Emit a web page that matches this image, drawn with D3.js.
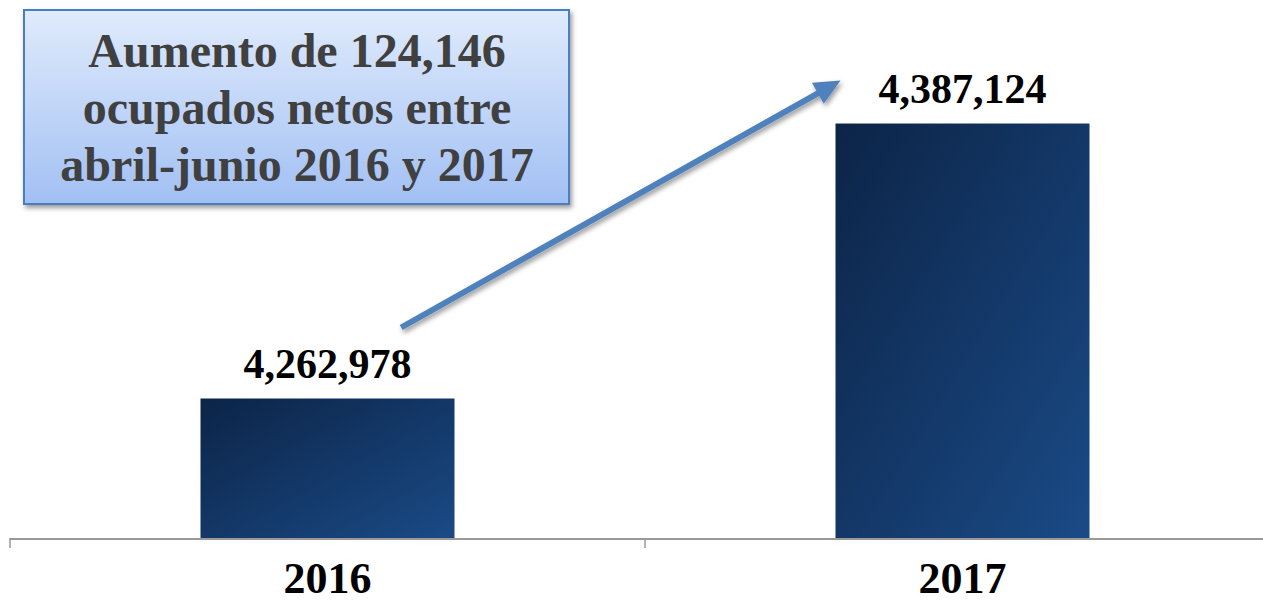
<!DOCTYPE html>
<html>
<head>
<meta charset="utf-8">
<script src="https://cdn.jsdelivr.net/npm/d3@7"></script>
<style>
  body { margin: 0; background: #fff; }
  text { font-family: "Liberation Serif", "Times New Roman", serif; font-weight: bold; }
</style>
</head>
<body>
<svg id="chart" width="1263" height="604"></svg>
<script>
const years = ["2016", "2017"];
const ocupados = [4262978, 4387124];
const boxLines = ["Aumento de 124,146", "ocupados netos entre", "abril-junio 2016 y 2017"];

const svg = d3.select("#chart");
const baseY = 538;

const x = d3.scaleBand()
    .domain(years)
    .range([10, 1280])
    .paddingInner(0.6)
    .paddingOuter(0.3);

const y = d3.scaleLinear()
    .domain([4200000, 4400000])
    .range([baseY, 95]);

const defs = svg.append("defs");

const barGrad = defs.append("linearGradient")
    .attr("id", "barGrad")
    .attr("x1", 0).attr("y1", 0).attr("x2", 1).attr("y2", 1);
barGrad.append("stop").attr("offset", "0%").attr("stop-color", "#0c2447");
barGrad.append("stop").attr("offset", "100%").attr("stop-color", "#1a4a86");

const boxGrad = defs.append("linearGradient")
    .attr("id", "boxGrad")
    .attr("x1", 0).attr("y1", 0).attr("x2", 0).attr("y2", 1);
boxGrad.append("stop").attr("offset", "0%").attr("stop-color", "#e0ebfc");
boxGrad.append("stop").attr("offset", "100%").attr("stop-color", "#a2c0f4");

const shadow = defs.append("filter")
    .attr("id", "shadow")
    .attr("x", "-10%").attr("y", "-10%").attr("width", "130%").attr("height", "130%");
shadow.append("feDropShadow")
    .attr("dx", 2).attr("dy", 3).attr("stdDeviation", 2.5)
    .attr("flood-color", "#000").attr("flood-opacity", 0.4);

// bars
svg.selectAll("rect.bar")
    .data(years)
    .enter().append("rect")
    .attr("class", "bar")
    .attr("x", d => x(d))
    .attr("y", (d, i) => y(ocupados[i]))
    .attr("width", x.bandwidth())
    .attr("height", (d, i) => baseY - y(ocupados[i]))
    .attr("fill", "url(#barGrad)");

// axis line + boundary ticks
svg.append("line")
    .attr("x1", x.range()[0]).attr("x2", x.range()[1])
    .attr("y1", baseY + 1).attr("y2", baseY + 1)
    .attr("stroke", "#999").attr("stroke-width", 2);

const tickXs = d3.range(years.length + 1).map(i => x.range()[0] + i * x.step());
svg.selectAll("line.tick")
    .data(tickXs)
    .enter().append("line")
    .attr("class", "tick")
    .attr("x1", d => d).attr("x2", d => d)
    .attr("y1", baseY).attr("y2", baseY + 10)
    .attr("stroke", "#999").attr("stroke-width", 1.5);

// category labels
svg.selectAll("text.cat")
    .data(years)
    .enter().append("text")
    .attr("class", "cat")
    .attr("x", d => x(d) + x.bandwidth() / 2)
    .attr("y", 593)
    .attr("text-anchor", "middle")
    .attr("font-size", 44)
    .attr("fill", "#000")
    .text(d => d);

// value labels
svg.selectAll("text.val")
    .data(years)
    .enter().append("text")
    .attr("class", "val")
    .attr("x", d => x(d) + x.bandwidth() / 2)
    .attr("y", (d, i) => y(ocupados[i]) - 21)
    .attr("text-anchor", "middle")
    .attr("font-size", 42)
    .attr("fill", "#000")
    .text((d, i) => d3.format(",")(ocupados[i]));

// arrow
const ax1 = x("2016") + x.bandwidth() * 0.79;
const ay1 = y(ocupados[0]) - 71;
const ax2 = x("2017") + 5;
const ay2 = y(ocupados[1]) - 43;
const ang = Math.atan2(ay2 - ay1, ax2 - ax1);
const headLen = 26, headW = 12;
const bx = ax2 - headLen * Math.cos(ang), by = ay2 - headLen * Math.sin(ang);

const arrow = svg.append("g").attr("filter", "url(#shadow)");
arrow.append("line")
    .attr("x1", ax1).attr("y1", ay1)
    .attr("x2", bx + 2 * Math.cos(ang)).attr("y2", by + 2 * Math.sin(ang))
    .attr("stroke", "#4f81bd").attr("stroke-width", 6);
arrow.append("polygon")
    .attr("points", [
        [ax2, ay2],
        [bx + headW * Math.sin(ang), by - headW * Math.cos(ang)],
        [bx - headW * Math.sin(ang), by + headW * Math.cos(ang)]
    ].map(p => p.join(",")).join(" "))
    .attr("fill", "#4f81bd");

// annotation box
const box = svg.append("g");
box.append("rect")
    .attr("x", 24).attr("y", 10)
    .attr("width", 545).attr("height", 194)
    .attr("fill", "url(#boxGrad)")
    .attr("stroke", "#4a7ec2").attr("stroke-width", 2)
    .attr("filter", "url(#shadow)");

box.selectAll("text")
    .data(boxLines)
    .enter().append("text")
    .attr("x", 297)
    .attr("y", (d, i) => 67 + i * 57)
    .attr("text-anchor", "middle")
    .attr("font-size", 48)
    .attr("fill", "#404040")
    .text(d => d);
</script>
</body>
</html>
